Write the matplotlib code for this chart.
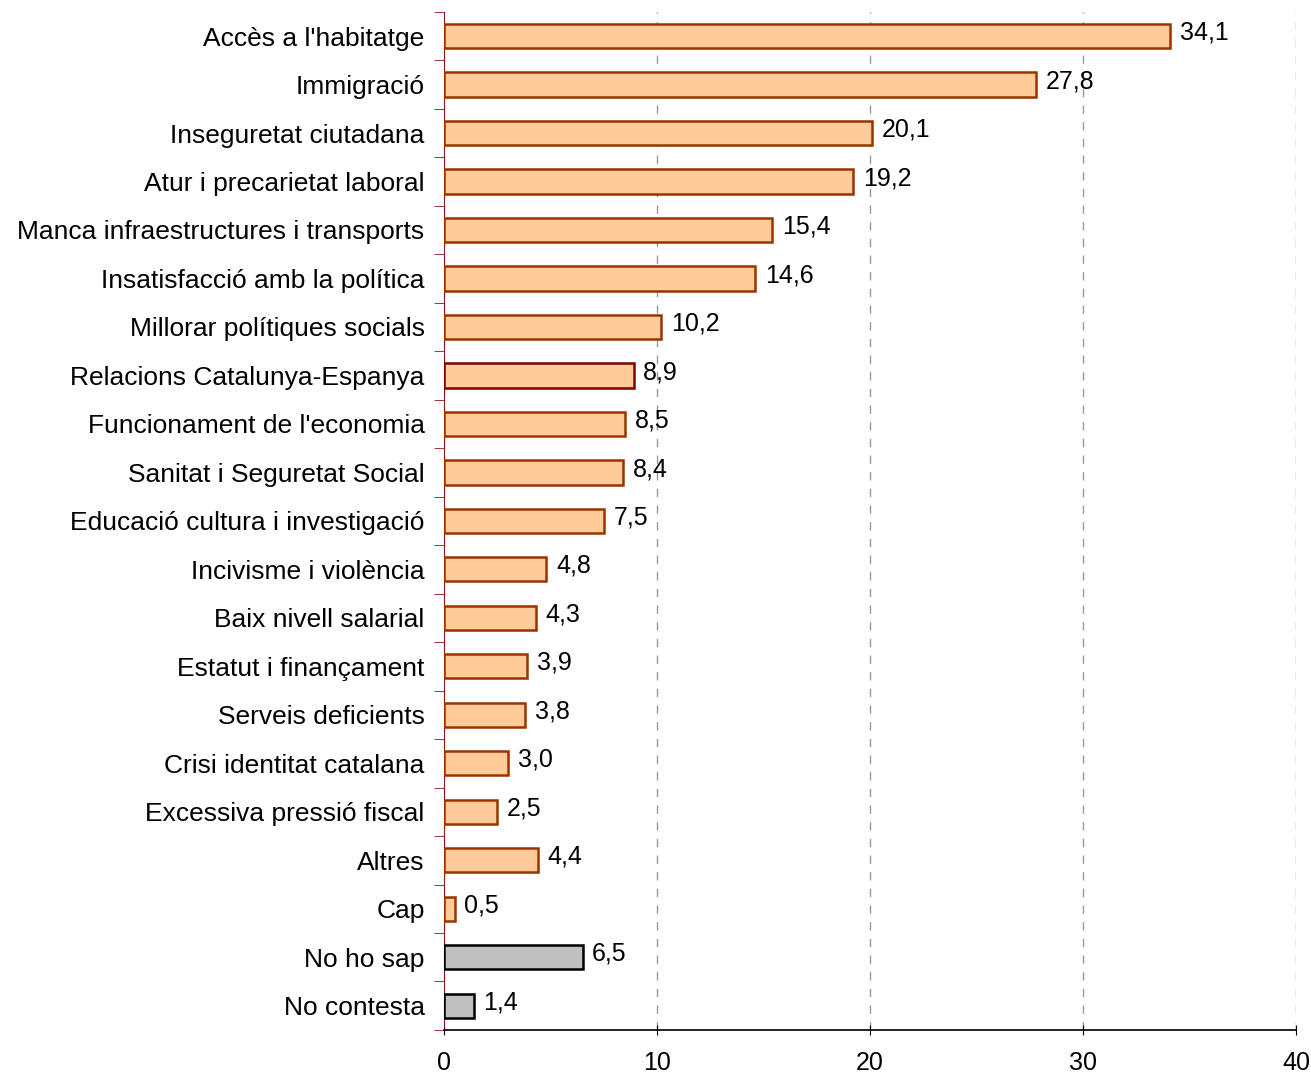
import numpy as np
import matplotlib
matplotlib.use("Agg")
import matplotlib.pyplot as plt

plt.rcParams['font.family'] = ['Liberation Sans', 'DejaVu Sans']

categories = ["Accès a l'habitatge", "Immigració", "Inseguretat ciutadana",
              "Atur i precarietat laboral", "Manca infraestructures i transports",
              "Insatisfacció amb la política", "Millorar polítiques socials",
              "Relacions Catalunya-Espanya", "Funcionament de l'economia",
              "Sanitat i Seguretat Social", "Educació cultura i investigació",
              "Incivisme i violència", "Baix nivell salarial", "Estatut i finançament",
              "Serveis deficients", "Crisi identitat catalana", "Excessiva pressió fiscal",
              "Altres", "Cap", "No ho sap", "No contesta"]
values = [34.1, 27.8, 20.1, 19.2, 15.4, 14.6, 10.2, 8.9, 8.5, 8.4, 7.5,
          4.8, 4.3, 3.9, 3.8, 3.0, 2.5, 4.4, 0.5, 6.5, 1.4]

fig = plt.figure(figsize=(13.11, 10.74), dpi=100)
ax = fig.add_axes([0.3387, 0.041, 0.65, 0.948])

y = np.arange(len(categories))
face = ['#FFCC99'] * 19 + ['#C0C0C0'] * 2
edge = ['#993300'] * 19 + ['#000000'] * 2
edge[7] = '#800000'
ax.barh(y, values, height=0.5, color=face, edgecolor=edge, linewidth=1.8, zorder=3)

for yi, v in zip(y, values):
    ax.text(v + 0.45, yi - 0.07, f"{v:.1f}".replace('.', ','), va='center', ha='left', fontsize=18)

ax.set_ylim(len(categories) - 0.5, -0.5)
ax.set_xlim(0, 40)
ax.set_xticks([0, 10, 20, 30, 40])
ax.set_yticks(y)
ax.set_yticklabels(categories, fontsize=19)
ax.set_yticks(np.arange(-0.5, len(categories)), minor=True)
ax.tick_params(axis='y', which='major', length=0, pad=14)
ax.tick_params(axis='y', which='minor', length=7, color='#8B1A1A', direction='out')
ax.tick_params(axis='x', length=7, direction='inout', labelsize=18, pad=12)

ax.xaxis.grid(True, linestyle=(0, (6, 6)), color='#999999', linewidth=1)
for s in ['top', 'right']:
    ax.spines[s].set_visible(False)
ax.spines['left'].set_color('#8B1A1A')
ax.spines['bottom'].set_linewidth(1.2)

fig.savefig('out.png', dpi=100)
